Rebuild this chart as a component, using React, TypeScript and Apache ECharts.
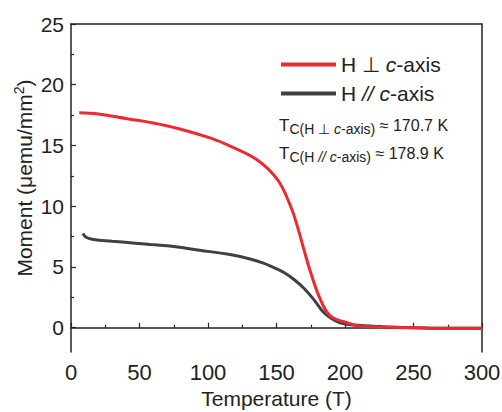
import React, { useEffect, useRef } from "react";
import * as echarts from "echarts";

const perpT = [6, 20, 41, 60, 78, 102, 117, 136, 150.6, 160.3, 165.2, 170, 175, 182, 189.5, 201.7, 211, 230, 250, 275, 300];
const perpM = [17.7, 17.6, 17.2, 16.85, 16.4, 15.6, 14.9, 13.8, 12.2, 10.0, 8.35, 6.43, 4.52, 2.33, 0.95, 0.41, 0.13, 0.05, 0.0, -0.05, -0.05];
const paraT = [8.7, 11, 16.5, 30, 45, 58, 75, 94, 116, 130, 140, 148, 156, 163, 170, 177, 185, 196, 210, 230, 250, 275, 300];
const paraM = [7.75, 7.45, 7.26, 7.12, 6.98, 6.84, 6.68, 6.38, 6.02, 5.68, 5.34, 4.95, 4.5, 3.95, 3.25, 2.35, 1.2, 0.42, 0.2, 0.06, 0.0, -0.05, -0.05];
const yMajor = [0, 5, 10, 15, 20, 25];
const yMinor = [2.5, 7.5, 12.5, 17.5, 22.5];
const perpName = "perp";
const paraName = "para";

const AXIS = "#222";
const FONT = "Liberation Sans, Arial, sans-serif";

export default function App() {
  const ref = useRef<HTMLDivElement>(null);
  useEffect(() => {
    if (!ref.current) return;
    const chart = echarts.init(ref.current, null, { renderer: "svg" });
    const zip = (xs: number[], ys: number[]) => xs.map((x, i) => [x, ys[i]]);
    const tc = (sub: string, val: string) => ({
      text: `{t|T}{c|C}{p|(H ${sub === "perp" ? "⊥ " : ""}}{pi|${sub === "perp" ? "" : "// "}c}{p|-axis)}{v| ≈ ${val} K}`,
      verticalAlign: "middle",
      rich: {
        t: { fontSize: 17, fill: "#222", fontFamily: FONT },
        c: { fontSize: 14, fill: "#222", fontFamily: FONT, padding: [7, 0, 0, 0] },
        p: { fontSize: 14, fill: "#222", fontFamily: FONT, padding: [7, 0, 0, 0] },
        pi: { fontSize: 14, fill: "#222", fontFamily: FONT, fontStyle: "italic", padding: [7, 0, 0, 0] },
        v: { fontSize: 16, fill: "#222", fontFamily: FONT },
      },
    });
    chart.setOption({
      animation: false,
      backgroundColor: "#fff",
      textStyle: { fontFamily: FONT },
      grid: { left: 71, right: 20, top: 24, bottom: 60, containLabel: false, outerBoundsMode: "none" },
      legend: {
        orient: "vertical",
        left: 276,
        top: 49,
        itemWidth: 55,
        itemHeight: 4,
        itemGap: 8,
        data: [
          { name: perpName, icon: "rect" },
          { name: paraName, icon: "rect" },
        ],
        formatter: (n: string) =>
          n === perpName ? "{n|H ⊥ }{i|c}{n|-axis}" : "{n|H }{i|// c}{n|-axis}",
        textStyle: {
          rich: {
            n: { fontSize: 21, color: "#222", fontFamily: FONT },
            i: { fontSize: 21, color: "#222", fontStyle: "italic", fontFamily: FONT },
          },
        },
      },
      xAxis: [
        {
          type: "value",
          min: 0,
          max: 300,
          interval: 50,
          name: "Temperature (T)",
          nameLocation: "middle",
          nameGap: 36,
          nameTextStyle: { fontSize: 21, color: "#222", fontFamily: FONT },
          axisLine: { lineStyle: { color: AXIS, width: 1.5 } },
          axisTick: { inside: true, length: 5, lineStyle: { color: AXIS, width: 1.2 } },
          minorTick: { show: true, splitNumber: 2, length: 3, lineStyle: { color: AXIS, width: 1.2 } },
          axisLabel: { fontSize: 22, color: "#222", margin: 9, fontFamily: FONT },
          splitLine: { show: false },
        },
        {
          type: "value",
          min: 0,
          max: 300,
          position: "top",
          axisLine: { show: true, onZero: false, lineStyle: { color: AXIS, width: 1.5 } },
          axisTick: { show: false },
          axisLabel: { show: false },
          splitLine: { show: false },
        },
      ],
      yAxis: [
        {
          type: "value",
          min: -2,
          max: 25,
          axisLine: { show: true, onZero: false, lineStyle: { color: AXIS, width: 1.5 } },
          axisTick: { show: true, inside: true, length: 5, customValues: yMajor, lineStyle: { color: AXIS, width: 1.2 } },
          axisLabel: { fontSize: 21, color: "#222", margin: 7, customValues: yMajor, fontFamily: FONT },
          splitLine: { show: false },
        },
        {
          type: "value",
          min: -2,
          max: 25,
          position: "left",
          axisLine: { show: false },
          axisTick: { show: true, inside: true, length: 3, customValues: yMinor, lineStyle: { color: AXIS, width: 1.2 } },
          axisLabel: { show: false },
          splitLine: { show: false },
        },
        {
          type: "value",
          min: -2,
          max: 25,
          position: "right",
          axisLine: { show: true, onZero: false, lineStyle: { color: AXIS, width: 1.5 } },
          axisTick: { show: false },
          axisLabel: { show: false },
          splitLine: { show: false },
        },
      ],
      series: [
        {
          name: paraName,
          type: "line",
          data: zip(paraT, paraM),
          smooth: 0.4,
          showSymbol: false,
          symbol: "none",
          lineStyle: { color: "#404040", width: 3 },
          itemStyle: { color: "#404040" },
        },
        {
          name: perpName,
          type: "line",
          data: zip(perpT, perpM),
          smooth: 0.4,
          showSymbol: false,
          symbol: "none",
          lineStyle: { color: "#ec2a2f", width: 3 },
          itemStyle: { color: "#ec2a2f" },
        },
      ],
      graphic: [
        {
          type: "text",
          x: 24,
          y: 178,
          rotation: Math.PI / 2,
          style: {
            text: "{a|Moment (μemu/mm}{s|2}{a|)}",
            align: "center",
            verticalAlign: "middle",
            rich: {
              a: { fontSize: 21, fill: "#222", fontFamily: FONT },
              s: { fontSize: 14, fill: "#222", fontFamily: FONT, padding: [0, 0, 10, 0] },
            },
          },
        },
        { type: "text", x: 279, y: 125, style: tc("perp", "170.7") },
        { type: "text", x: 279, y: 153, style: tc("para", "178.9") },
      ],
    });
    return () => chart.dispose();
  }, []);
  return <div ref={ref} style={{ position: "absolute", left: 0, top: 0, width: 502, height: 412 }} />;
}
